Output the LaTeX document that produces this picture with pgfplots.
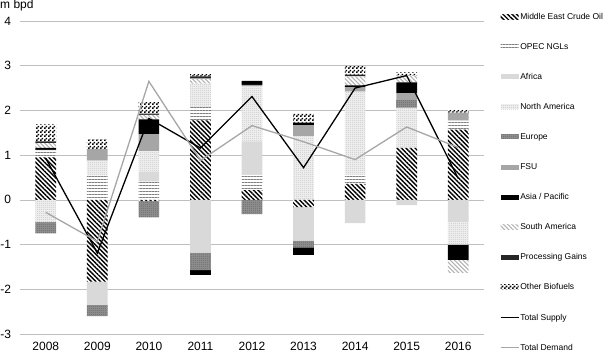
\documentclass[border=0pt]{standalone}
\usepackage{fontspec}
\setmainfont{Liberation Sans}
\usepackage{pgfplots}
\pgfplotsset{compat=1.18}
\usepackage{pgfplotstable}
\usetikzlibrary{patterns,patterns.meta}

\pgfdeclarepattern{name=smallcheck, type=uncolored,
  bottom left={\pgfpoint{0pt}{0pt}}, top right={\pgfpoint{4pt}{4pt}},
  tile size={\pgfpoint{4pt}{4pt}},
  code={\pgfpathrectangle{\pgfpointorigin}{\pgfpoint{2pt}{2pt}}
        \pgfpathrectangle{\pgfpoint{2pt}{2pt}}{\pgfpoint{2pt}{2pt}}
        \pgfusepath{fill}}}
\pgfdeclarepattern{name=finedots, type=uncolored,
  bottom left={\pgfpoint{0pt}{0pt}}, top right={\pgfpoint{1.6pt}{1.6pt}},
  tile size={\pgfpoint{1.6pt}{1.6pt}},
  code={\pgfpathrectangle{\pgfpointorigin}{\pgfpoint{0.7pt}{0.7pt}}
        \pgfusepath{fill}}}

\pgfplotstableread{
x ME OPEC AF NA EU FSU AP SA PG OB
0 0.95 0.15 0.02 0 0 0 0.04 0.11 0.04 0.38
1 0 0.54 0 0.34 0 0.26 0 0 0 0.21
2 0 0.41 0.22 0.46 0 0.38 0.33 0.10 0.03 0.26
3 1.78 0.30 0 0.52 0 0 0 0.11 0.05 0.05
4 0.22 0.34 0.75 1.23 0 0.03 0.09 0 0 0
5 0 0 0 1.42 0 0.25 0.06 0 0 0.21
6 0.36 0.20 0 1.86 0 0.10 0.04 0.20 0.04 0.19
7 1.16 0 0 0.90 0.17 0.15 0.25 0.15 0 0.07
8 1.57 0.19 0.02 0 0 0.17 0 0 0 0.07
}\pos

\pgfplotstableread{
x ME OPEC AF NA EU FSU AP SA PG OB
0 0 0 0 -0.50 -0.25 0 0 0 0 0
1 -1.83 0 -0.52 0 -0.25 0 0 0 0 0
2 -0.03 0 0 0 -0.36 0 0 0 0 0
3 0 0 -1.18 0 -0.39 0 -0.11 0 0 0
4 0 0 0 0 -0.32 0 0 0 0 0
5 -0.16 0 -0.75 0 -0.15 0 -0.17 0 0 0
6 0 0 -0.52 0 0 0 0 0 0 0
7 0 0 -0.12 0 0 0 0 0 0 0
8 0 0 -0.49 -0.51 0 0 -0.34 -0.29 0 0
}\neg

\pgfplotstableread{
x TS TD
0 0.93 -0.28
1 -1.19 -0.93
2 1.82 2.65
3 1.16 0.88
4 2.31 1.66
5 0.72 1.30
6 2.50 0.90
7 2.78 1.63
8 0.48 1.17
}\lines

\pgfplotsset{
  base/.style={
    width=464pt, height=313pt, scale only axis,
    at={(20pt,19pt)}, anchor=south west,
    xmin=-0.5, xmax=8.5, ymin=-3, ymax=4,
    enlarge x limits=false, enlarge y limits=false,
  },
  barleg/.style={legend image code/.code={\path[##1] (0pt,-2.5pt) rectangle (18pt,2.5pt);}},
  lineleg/.style={legend image code/.code={\draw[##1] (0pt,0pt) -- (18pt,0pt);}},
  sME/.style={draw=none, fill=white, postaction={pattern={Lines[angle=-45,distance=3.2pt,line width=1.4pt]}, pattern color=black}},
  sOPEC/.style={draw=none, fill=white, postaction={pattern={Lines[angle=0,distance=3pt,line width=0.8pt]}, pattern color=black!50}},
  sAF/.style={draw=none, fill=black!15},
  sNA/.style={draw=none, fill=black!7, postaction={pattern=finedots, pattern color=black!30}},
  sEU/.style={draw=none, fill=black!45, postaction={pattern=finedots, pattern color=black!65}},
  sFSU/.style={draw=none, fill=black!35},
  sAP/.style={draw=none, fill=black},
  sSA/.style={draw=none, fill=white, postaction={pattern={Lines[angle=-45,distance=3pt,line width=1.1pt]}, pattern color=black!30}},
  sPG/.style={draw=none, fill=black!85},
  sOB/.style={draw=none, fill=white, postaction={pattern=smallcheck, pattern color=black}},
  sTS/.style={black, line width=1.3pt, no markers, sharp plot},
  sTD/.style={black!35, line width=1.3pt, no markers, sharp plot},
}

\begin{document}
\begin{tikzpicture}
\useasboundingbox (0,0) rectangle (605pt,353pt);
\begin{axis}[base, name=A,
  ybar stacked, bar width=20.7pt, clip=false,
  ymajorgrids, grid style={black!25, line width=0.7pt},
  axis line style={draw=none}, major tick length=0pt,
  xtick={0,...,8}, xticklabels={2008,2009,2010,2011,2012,2013,2014,2015,2016},
  ytick={-3,-2,-1,0,1,2,3,4},
  /pgf/number format/assume math mode=true,
  tick label style={font=\fontsize{12}{14}\selectfont},
  yticklabel style={xshift=-5.5pt},
  xticklabel style={yshift=-5pt},
  legend cell align=left,
  legend style={draw=none, fill=none, inner sep=0pt, outer sep=0pt,
    at={(1,1)}, anchor=north west, xshift=16pt, yshift=9pt,
    row sep=21.1pt, column sep=1pt,
    font=\fontsize{8.5}{10}\selectfont,
    nodes={inner sep=0pt, text height=7pt, text depth=2pt}},
]
\addplot[sME, barleg] table[x=x, y=ME] {\pos}; \addlegendentry{Middle East Crude Oil}
\addplot[sOPEC, barleg] table[x=x, y=OPEC] {\pos}; \addlegendentry{OPEC NGLs}
\addplot[sAF, barleg] table[x=x, y=AF] {\pos}; \addlegendentry{Africa}
\addplot[sNA, barleg] table[x=x, y=NA] {\pos}; \addlegendentry{North America}
\addplot[sEU, barleg] table[x=x, y=EU] {\pos}; \addlegendentry{Europe}
\addplot[sFSU, barleg] table[x=x, y=FSU] {\pos}; \addlegendentry{FSU}
\addplot[sAP, barleg] table[x=x, y=AP] {\pos}; \addlegendentry{Asia / Pacific}
\addplot[sSA, barleg] table[x=x, y=SA] {\pos}; \addlegendentry{South America}
\addplot[sPG, barleg] table[x=x, y=PG] {\pos}; \addlegendentry{Processing Gains}
\addplot[sOB, barleg] table[x=x, y=OB] {\pos}; \addlegendentry{Other Biofuels}
\addlegendimage{sTS, lineleg} \addlegendentry{Total Supply}
\addlegendimage{sTD, lineleg} \addlegendentry{Total Demand}
\end{axis}
\node[anchor=base west, inner sep=0pt, font=\fontsize{12}{14}\selectfont] at ([xshift=-20pt, yshift=13pt]A.north west) {m bpd};
\begin{axis}[base, hide axis, ybar stacked, bar width=20.7pt]
\addplot[sME] table[x=x, y=ME] {\neg};
\addplot[sOPEC] table[x=x, y=OPEC] {\neg};
\addplot[sAF] table[x=x, y=AF] {\neg};
\addplot[sNA] table[x=x, y=NA] {\neg};
\addplot[sEU] table[x=x, y=EU] {\neg};
\addplot[sFSU] table[x=x, y=FSU] {\neg};
\addplot[sAP] table[x=x, y=AP] {\neg};
\addplot[sSA] table[x=x, y=SA] {\neg};
\addplot[sPG] table[x=x, y=PG] {\neg};
\addplot[sOB] table[x=x, y=OB] {\neg};
\end{axis}
\begin{axis}[base, hide axis]
\addplot[sTS] table[x=x, y=TS] {\lines};
\addplot[sTD] table[x=x, y=TD] {\lines};
\end{axis}
\end{tikzpicture}
\end{document}
